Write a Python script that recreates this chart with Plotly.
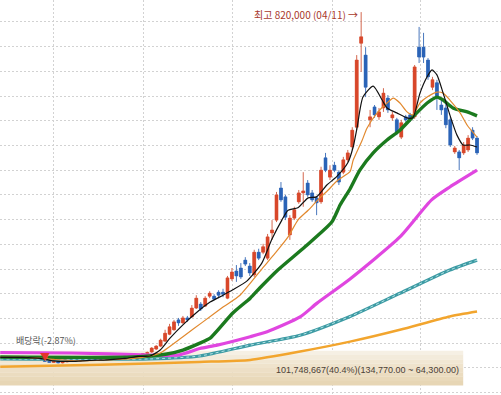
import plotly.graph_objects as go

# ---------------- data (prices in thousands of won) ----------------
opens_k = [121,120,122,120,121,123,121,119,120,117,117,113,111,113,110,112,114,115,114,116,
           115,117,115,117,116,118,117,119,121,124,125,124,127,129,
           132,138,144,154,168,177,197,191,201,203,221,229,225,245,245,253,253,241,280,296,302,318,306,288,334,334,
           322,373,399,464,446,369,403,436,454,474,454,444,436,525,486,510,496,496,521,547,587,757,733,602,628,608,626,646,606,602,
           567,608,612,608,749,749,723,668,677,632,626,602,537,537,535,541,581,565]
highs_k = [123,123,123,122,124,124,122,121,121,119,118,115,114,114,113,115,116,117,117,118,
           118,118,118,119,119,120,120,122,125,127,127,128,130,133,
           142,146,159,177,189,197,201,205,205,227,247,233,245,255,249,257,260,286,302,308,312,324,312,339,341,351,
           371,399,456,476,450,409,426,460,496,480,460,448,507,535,510,517,500,527,541,587,733,820,749,622,632,626,666,652,618,606,
           602,612,616,713,790,778,727,689,683,646,636,608,549,541,557,571,587,569]
lows_k = [119,119,119,118,120,120,118,117,116,115,112,110,110,109,109,111,112,113,113,114,
          114,114,114,115,115,116,116,118,120,122,123,123,125,127,
          130,136,142,152,166,175,185,189,193,201,219,215,223,241,237,241,243,239,276,274,280,306,286,284,318,330,
          318,359,395,436,399,359,399,432,426,446,436,409,432,496,480,496,470,492,517,541,581,699,648,587,606,602,618,616,600,571,
          563,598,598,604,717,717,683,662,622,612,585,547,533,500,531,537,561,531]
closes_k = [120,122,120,121,123,121,119,120,117,118,113,111,113,110,112,114,115,114,116,115,
            117,115,117,116,118,117,119,121,124,125,124,127,129,131,
            140,144,156,170,183,193,191,201,197,221,241,219,241,251,239,247,249,282,294,286,284,310,292,334,322,345,
            365,379,450,440,405,403,420,454,458,450,440,434,500,500,500,500,476,521,535,581,723,770,668,608,612,618,656,622,612,577,
            596,602,602,709,729,729,689,683,648,622,592,551,545,525,551,565,565,535]

# moving-average lines: (day index, price k)
ma5_x = [0,5,9,12,16,20,24,28,31,33.6,35.9,38.1,41.0,44.2,47.1,50.0,52.2,55.4,58.7,60.9,63.2,64.6,66.8,69.1,71.0,73.3,
         75.5,78.0,79.2,80.1,81.4,83.7,85.7,86.8,89.0,91.3,92.6,94.2,95.8,96.9,98.0,99.4,100.9,102.5,103.9,105.4,107.0]
ma5_k = [121,121,119,114,113,115,116,119,123,124,136,160,187,213,233,247,258,276,312,359,399,419,424,444,446,470,
         487,515,547,587,648,670,642,626,616,606,606,656,689,703,693,656,612,571,551,551,547]
ma10_x = [0,6,12,18,24,30,33.6,35.9,41.0,45.5,50.0,53.8,58.7,61.7,64.6,66.8,69.1,71.3,73.6,75.8,78.5,79.2,
          81.2,82.3,84.6,86.8,88.2,89.7,91.3,92.6,94.2,95.8,98.0,99.4,100.9,103.2,104.8,107.0]
ma10_k = [121,121,117,114,116,119,124,130,163,193,223,247,300,332,365,399,419,440,460,480,497,520,
          560,585,616,636,646,636,618,612,636,648,658,656,642,616,591,567]
ma20_x = [0,29.8,37.4,41.0,44.8,47.1,52.2,56.1,58.3,62.3,68.4,74.4,76.3,78.5,80.7,83.7,86.8,89.7,92.6,95.8,98.0,99.4,101.6,104.8,107.0]
ma20_k = [122,122,128,136,150,160,211,241,262,298,345,395,430,462,500,535,561,581,608,636,648,642,626,618,610]
ma60_x = [0,16,33.6,40,44.8,48.7,56.1,59.9,67.3,71.1,78.5,89.7,96.8,100.9,107.0]
ma60_k = [131,130,126,126,139,146,163,173,203,231,280,365,440,466,500]
ma120_x = [0,33.6,44.8,56.1,67.3,78.5,89.7,100.9,107.0]
ma120_k = [118,118,124,146,166,204,251,298,318]
ma240_x = [0,22.4,44.8,56.1,67.3,78.5,89.7,100.9,107.0]
ma240_k = [102,106,112,116,133,153,177,204,214]

# volume-profile band and labels
band_low = 64300
band_high = 134770
band_text = "101,748,667(40.4%)(134,770.00 ~ 64,300.00)"
high_label = "최고 820,000 (04/11)"
div_idx = 10
div_label = "배당락(-2.87%)"
month_lines = [11.9, 32.1, 52.1, 74.5, 94.4]

K = 1000
opens = [v * K for v in opens_k]
highs = [v * K for v in highs_k]
lows = [v * K for v in lows_k]
closes = [v * K for v in closes_k]
idx = list(range(len(closes)))

RED, RED_WICK = "#d8472a", "#d4684f"
BLUE, BLUE_WICK = "#2a63b7", "#4a78bd"

fig = go.Figure()

# band: vertical gradient built from stacked strips (below traces)
band_right = 103.9
band_cols = ["#e7d6b5", "#e9d9ba", "#ebdcc0", "#eddfc6", "#efe3cc", "#f1e7d3", "#f3ebdb", "#f6f0e4"]
n = len(band_cols)
step = (band_high - band_low) / n
for j, c in enumerate(band_cols):
    fig.add_shape(type="rect", xref="x", yref="y", x0=-2, x1=band_right,
                  y0=band_low + j * step, y1=band_low + (j + 1) * step + (step * 0.05 if j < n - 1 else 0),
                  fillcolor=c, line=dict(width=0), layer="between")

def ma_line(xs, ks, color, width, dash=None):
    fig.add_trace(go.Scatter(x=xs, y=[v * K for v in ks], mode="lines",
                             line=dict(color=color, width=width, dash=dash, shape="spline", smoothing=0.6),
                             hoverinfo="skip", showlegend=False))

# candles: bodies as bars, wicks as segments
inc = [i for i in idx if closes[i] >= opens[i]]
dec = [i for i in idx if closes[i] < opens[i]]
for sel, col in ((inc, RED), (dec, BLUE)):
    fig.add_trace(go.Bar(x=sel, base=[min(opens[i], closes[i]) for i in sel],
                         y=[abs(closes[i] - opens[i]) for i in sel], width=0.66,
                         marker=dict(color=col, line=dict(color=col, width=0.6)),
                         hoverinfo="skip", showlegend=False))

for sel, col, wcol in ((inc, RED, RED_WICK), (dec, BLUE, BLUE_WICK)):
    wx, wy = [], []
    for i in sel:
        wx += [i, i, None]
        wy += [lows[i], highs[i], None]
    fig.add_trace(go.Scatter(x=wx, y=wy, mode="lines", line=dict(color=wcol, width=1),
                             hoverinfo="skip", showlegend=False))
    fig.add_trace(go.Scatter(x=[i for i in sel for _ in (0, 1, 2)],
                             y=[v for i in sel for v in (opens[i], closes[i], None)],
                             mode="lines", line=dict(color=col, width=3),
                             hoverinfo="skip", showlegend=False))

ma_line(ma240_x, ma240_k, "#f2a52e", 2.5)
ma_line(ma120_x, ma120_k, "#3d9ba4", 3.2)
ma_line(ma120_x, ma120_k, "#b6e4e6", 1, "dot")
ma_line(ma60_x, ma60_k, "#e046e0", 3.2)
ma_line(ma20_x, ma20_k, "#1b7a1e", 3.4)
ma_line(ma10_x, ma10_k, "#e2892e", 1.2)
ma_line(ma5_x, ma5_k, "#111111", 1.2)

# dividend marker (red down-triangle just above the candle)
fig.add_annotation(x=div_idx, y=highs[div_idx], text="▼", showarrow=False,
                   yanchor="bottom", yshift=-7,
                   font=dict(family="Noto Sans CJK KR", size=10, color="#e5352b"))

# annotations
hi_idx = max(idx, key=lambda i: highs[i])
fig.add_annotation(x=hi_idx, y=highs[hi_idx], text=high_label + " →", showarrow=False,
                   xanchor="right", yanchor="middle", xshift=-1, yshift=-2,
                   font=dict(family="Noto Sans CJK KR", size=10, color="#a8392c"))
fig.add_annotation(x=div_idx, y=highs[div_idx], text=div_label, showarrow=False,
                   yanchor="bottom", yshift=10, xshift=1,
                   font=dict(family="Noto Sans CJK KR", size=9, color="#555555"))
fig.add_annotation(x=band_right, y=(band_low + band_high) / 2, text=band_text, showarrow=False,
                   xanchor="right", yanchor="middle", xshift=-2, yshift=-2,
                   font=dict(family="Liberation Sans", size=9, color="#4a4036"))

fig.update_layout(
    width=501, height=395, autosize=False,
    margin=dict(l=0, r=0, t=0, b=0),
    paper_bgcolor="white", plot_bgcolor="white",
    showlegend=False, barmode="overlay",
    xaxis=dict(range=[-0.05, 112.38],
               tickvals=month_lines, showticklabels=False, ticks="",
               showgrid=True, gridcolor="#d2d2d2", griddash="2px,2px", gridwidth=1,
               zeroline=False, showline=False),
    yaxis=dict(range=[45000, 844500], tick0=0, dtick=50000, showticklabels=False, ticks="",
               showgrid=True, gridcolor="#d2d2d2", griddash="2px,2px", gridwidth=1,
               zeroline=False, showline=False),
)

fig.write_html("out.html", config={"displayModeBar": False},
               post_script="document.body.style.margin='0px';")
